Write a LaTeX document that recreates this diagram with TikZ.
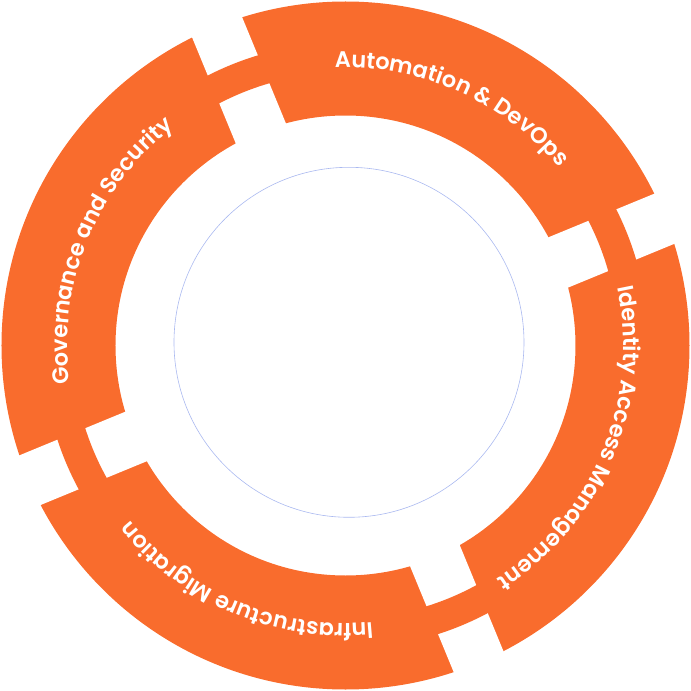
\documentclass[tikz,border=0pt]{standalone}
\usepackage{fontspec}
\newfontfamily\labelfont{Poppins SemiBold}
\usetikzlibrary{decorations.text}
\definecolor{ringorange}{RGB}{249,108,45}
\definecolor{circblue}{RGB}{170,185,240}
\tikzset{
  curvedlabel/.style={decorate, decoration={text along path, text align=center,
     text={|\labelfont\fontsize{22.5}{26}\selectfont\color{white}|#1}}}
}
\begin{document}
\begin{tikzpicture}
\useasboundingbox (-345.5pt,-345.5pt) rectangle (345.5pt,345.5pt);
% ring
\fill[ringorange, even odd rule] (0,0) circle (344pt) (0,0) circle (230pt);
% gaps
\begin{scope}[shift={(4pt,-3pt)}, rotate=22.4]
\fill[white] (-400pt,-27pt) rectangle (400pt,27pt);
\fill[white] (-27pt,-400pt) rectangle (27pt,400pt);
\end{scope}
% thin connecting band
\fill[ringorange, even odd rule] (0,0) circle (303pt) (0,0) circle (273pt);
% inner circle
\draw[circblue, line width=0.6pt] (3.5pt,3.2pt) circle (175pt);
% labels
\path[curvedlabel={Automation {\&} DevOps}] (126:278pt) arc[start angle=126, end angle=6, radius=278pt];
\path[curvedlabel={Identity Access Management}] (37.5:278pt) arc[start angle=37.5, end angle=-82.5, radius=278pt];
\path[curvedlabel={Infrastructure Migration}] (-52.7:278pt) arc[start angle=-52.7, end angle=-172.7, radius=278pt];
\path[curvedlabel={Governance and Security}] (218:278pt) arc[start angle=218, end angle=98, radius=278pt];
\end{tikzpicture}
\end{document}
